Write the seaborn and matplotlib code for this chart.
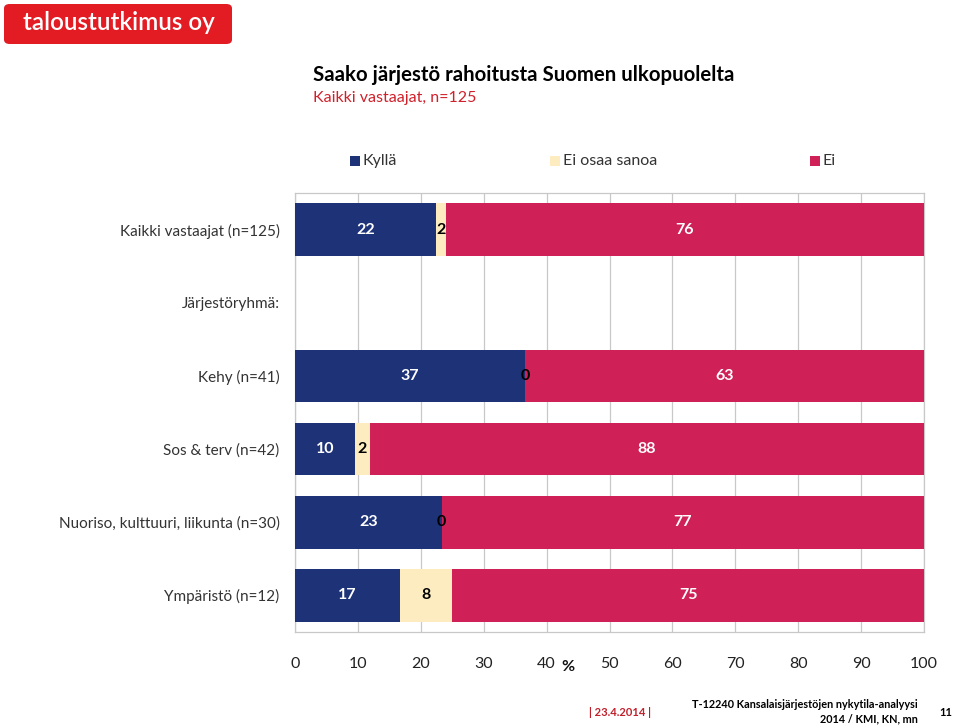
import matplotlib
matplotlib.use("Agg")
import matplotlib.pyplot as plt
from matplotlib.patches import FancyBboxPatch, Patch
import seaborn as sns
import pandas as pd
import numpy as np

# ---- data ----
categories = ["Kaikki vastaajat (n=125)", "Kehy (n=41)", "Sos & terv (n=42)",
              "Nuoriso, kulttuuri, liikunta (n=30)", "Ympäristö (n=12)"]
row_order = ["Kaikki vastaajat (n=125)", "Järjestöryhmä:", "Kehy (n=41)",
             "Sos & terv (n=42)", "Nuoriso, kulttuuri, liikunta (n=30)", "Ympäristö (n=12)"]
kylla = [22.4, 36.6, 9.5, 23.3, 16.7]
ei_osaa = [1.6, 0.0, 2.4, 0.0, 8.3]
ei = [76.0, 63.4, 88.1, 76.7, 75.0]
kylla_lbl = [22, 37, 10, 23, 17]
ei_osaa_lbl = [2, 0, 2, 0, 8]
ei_lbl = [76, 63, 88, 77, 75]
series_names = ["Kyllä", "Ei osaa sanoa", "Ei"]
xticks = [0, 10, 20, 30, 40, 50, 60, 70, 80, 90, 100]

C_KYLLA = "#1d3277"
C_EIOSAA = "#fcecbf"
C_EI = "#cf2157"
LOGO_RED = "#e31b23"

sns.set_theme(style="white")
plt.rcParams["font.family"] = ["Lato", "DejaVu Sans"]

df = pd.DataFrame({"cat": categories, "kylla": kylla, "ei_osaa": ei_osaa, "ei": ei})
df["c1"] = df["kylla"]
df["c2"] = df["kylla"] + df["ei_osaa"]
df["c3"] = df["c2"] + df["ei"]

fig = plt.figure(figsize=(9.6, 7.28), dpi=100)
ax = fig.add_axes([295 / 960, 1 - 632 / 728, (924 - 295) / 960, (632 - 193) / 728])

bw = 0.72
sns.barplot(data=df, y="cat", x="c3", order=row_order, color=C_EI, width=bw,
            orient="h", ax=ax, saturation=1, linewidth=0, zorder=3)
sns.barplot(data=df, y="cat", x="c2", order=row_order, color=C_EIOSAA, width=bw,
            orient="h", ax=ax, saturation=1, linewidth=0, zorder=3)
sns.barplot(data=df, y="cat", x="c1", order=row_order, color=C_KYLLA, width=bw,
            orient="h", ax=ax, saturation=1, linewidth=0, zorder=3)

ax.set_xlim(0, 100)
ax.set_ylim(5.5, -0.5)
ax.set_xticks(xticks)
ax.set_xticklabels([str(t) for t in xticks])
ax.set_ylabel("")
ax.set_xlabel("")
ax.grid(axis="x", color="#c8c8c8", linewidth=0.9, zorder=0)
ax.grid(axis="y", visible=False)
for s in ax.spines.values():
    s.set_color("#c8c8c8")
    s.set_linewidth(0.9)
ax.tick_params(axis="x", length=0, labelsize=11.5, pad=18, colors="#222222")
ax.tick_params(axis="y", length=0, labelsize=11, pad=11, colors="#333333")

# value labels
ypos = {c: row_order.index(c) for c in categories}
fs = 11.5
for i, c in enumerate(categories):
    y = ypos[c]
    k, e0, e = kylla[i], ei_osaa[i], ei[i]
    ax.text(k / 2, y, str(kylla_lbl[i]), ha="center", va="center", color="white",
            fontsize=fs, fontweight="bold", zorder=5)
    ax.text(k + e0 / 2, y, str(ei_osaa_lbl[i]), ha="center", va="center", color="black",
            fontsize=fs, fontweight="bold", zorder=5)
    ax.text(k + e0 + e / 2, y, str(ei_lbl[i]), ha="center", va="center", color="white",
            fontsize=fs, fontweight="bold", zorder=5)

# % label
fig.text(568 / 960, 1 - 667 / 728, "%", ha="center", va="center", fontsize=11.5,
         fontweight="bold", color="#111111")

# legend
handles = [Patch(facecolor=C_KYLLA), Patch(facecolor=C_EIOSAA), Patch(facecolor=C_EI)]
leg_x = [350, 550, 810]
for hx, name, h in zip(leg_x, series_names, handles):
    fig.patches.append(plt.Rectangle((hx / 960, 1 - 166 / 728), 10 / 960, 10 / 728,
                                     transform=fig.transFigure, facecolor=h.get_facecolor(),
                                     edgecolor="none"))
    fig.text((hx + 13) / 960, 1 - 161 / 728, name, ha="left", va="center",
             fontsize=11.5, color="#333333")

# title
fig.text(313 / 960, 1 - 75 / 728, "Saako järjestö rahoitusta Suomen ulkopuolelta",
         ha="left", va="center", fontsize=14.7, fontweight="bold", color="black")
fig.text(313 / 960, 1 - 98 / 728, "Kaikki vastaajat, n=125", ha="left", va="center",
         fontsize=11.5, color="#d0202a")

# logo
logo = FancyBboxPatch((4 / 960, 1 - 44 / 728), 228 / 960, 40 / 728,
                      boxstyle="round,pad=0,rounding_size=0.006",
                      transform=fig.transFigure, facecolor=LOGO_RED, edgecolor="none")
fig.patches.append(logo)
fig.text(119 / 960, 1 - 23 / 728, "taloustutkimus oy", ha="center", va="center",
         fontsize=17.5, color="white", fontweight="semibold")

# footer
fig.text(620 / 960, 1 - 712 / 728, "| 23.4.2014 |", ha="center", va="center",
         fontsize=8, color="#c0202a", fontweight="bold")
fig.text(918 / 960, 1 - 705 / 728, "T-12240 Kansalaisjärjestöjen nykytila-analyysi",
         ha="right", va="center", fontsize=7.8, color="black", fontweight="bold")
fig.text(918 / 960, 1 - 719 / 728, "2014 / KMI, KN, mn", ha="right", va="center",
         fontsize=7.8, color="black", fontweight="bold")
fig.text(946 / 960, 1 - 712 / 728, "11", ha="center", va="center",
         fontsize=8, color="black", fontweight="bold")

fig.savefig("out.png", dpi=100)
